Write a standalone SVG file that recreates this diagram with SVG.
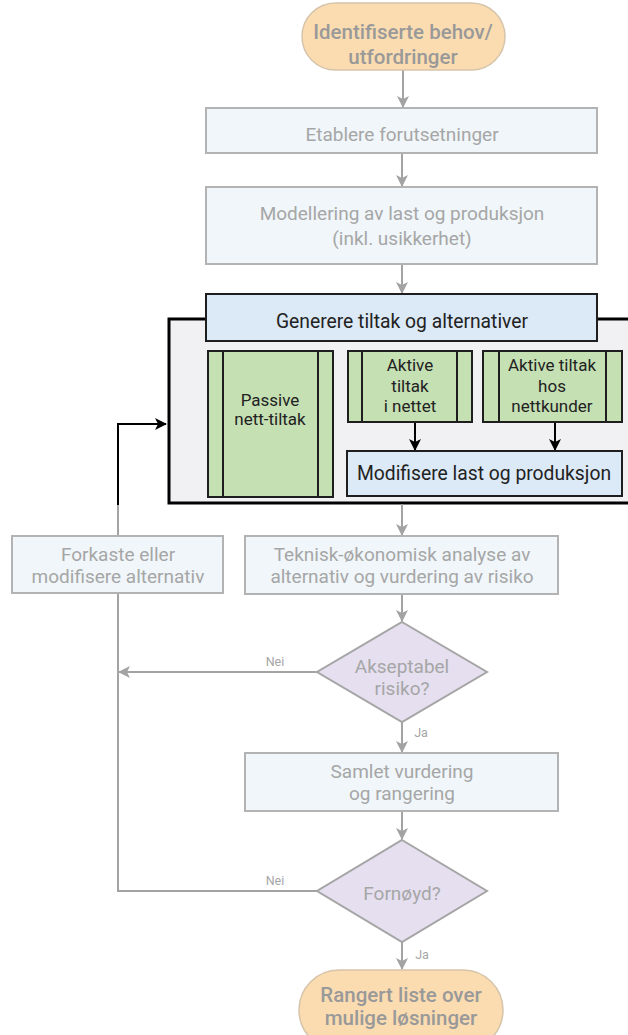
<svg xmlns="http://www.w3.org/2000/svg" width="628" height="1035" viewBox="0 0 628 1035">
  <style>
    text { font-family: Roboto, "Liberation Sans", sans-serif; text-anchor: middle; dominant-baseline: central; }
    .t-gray { fill: #a6a6a6; font-size: 19px; }
    .t-term { fill: #999; font-size: 20.5px; font-weight: 500; }
    .t-dark { fill: #222; font-size: 19.3px; }
    .t-green { fill: #222; font-size: 17px; }
    .t-lbl { fill: #a6a6a6; font-size: 12.5px; }
    .box { fill: #f0f6fa; stroke: #b3b3b3; stroke-width: 2; }
    .term { fill: #fbdcb1; stroke: #d6c4aa; stroke-width: 1.5; }
    .dia { fill: #e5dff0; stroke: #a5a5a5; stroke-width: 2; }
    .green { fill: #c5e0b3; stroke: #1e1e1e; stroke-width: 2; }
    .blue { fill: #dce9f6; stroke: #1e1e1e; stroke-width: 2; }
    .bar { stroke: #1e1e1e; stroke-width: 2; }
    .g-line { fill: none; stroke: #a3a3a3; stroke-width: 2; }
    .k-line { fill: none; stroke: #000; stroke-width: 2; }
  </style>
  <defs>
    <marker id="ag" viewBox="0 0 12 12" refX="11" refY="6" markerWidth="12" markerHeight="12" markerUnits="userSpaceOnUse" orient="auto">
      <path d="M0,0 L12,6 L0,12 L3,6 z" fill="#a3a3a3"/>
    </marker>
    <marker id="ak" viewBox="0 0 12 12" refX="11" refY="6" markerWidth="12" markerHeight="12" markerUnits="userSpaceOnUse" orient="auto">
      <path d="M0,0 L12,6 L0,12 L3,6 z" fill="#000"/>
    </marker>
  </defs>

  <rect width="628" height="1035" fill="#fff"/>

  <!-- generation container -->
  <g id="container">
    <rect x="169" y="319" width="470" height="184" fill="#f1f1f4" stroke="#000" stroke-width="3"/>
  </g>

  <g id="connectors">
    <line class="g-line" x1="403" y1="70" x2="403" y2="107" marker-end="url(#ag)"/>
    <line class="g-line" x1="402" y1="153" x2="402" y2="186" marker-end="url(#ag)"/>
    <line class="g-line" x1="402" y1="264" x2="402" y2="293" marker-end="url(#ag)"/>
    <line class="k-line" x1="415" y1="422" x2="415" y2="450" marker-end="url(#ak)"/>
    <line class="k-line" x1="555" y1="422" x2="555" y2="450" marker-end="url(#ak)"/>
    <line class="g-line" x1="402" y1="504" x2="402" y2="535" marker-end="url(#ag)"/>
    <line class="g-line" x1="402" y1="594" x2="402" y2="621" marker-end="url(#ag)"/>
    <line class="g-line" x1="402" y1="722" x2="402" y2="752" marker-end="url(#ag)"/>
    <line class="g-line" x1="402" y1="811" x2="402" y2="839" marker-end="url(#ag)"/>
    <line class="g-line" x1="402" y1="942" x2="402" y2="969" marker-end="url(#ag)"/>
    <!-- Nei branches -->
    <line class="g-line" x1="317" y1="672" x2="119" y2="672" marker-end="url(#ag)"/>
    <polyline class="g-line" points="317,891 118,891 118,593"/>
    <!-- back to generation -->
    <line class="g-line" x1="118" y1="536" x2="118" y2="504"/>
    <polyline class="k-line" points="118,505 118,424 166,424" marker-end="url(#ak)"/>
    <text class="t-lbl" x="275" y="661">Nei</text>
    <text class="t-lbl" x="275" y="880">Nei</text>
    <text class="t-lbl" x="421" y="732">Ja</text>
    <text class="t-lbl" x="422" y="954">Ja</text>
  </g>

  <g id="start">
    <rect class="term" x="302" y="3" width="203" height="67" rx="33.5"/>
    <text class="t-term" x="403" y="32">Identifiserte behov/</text>
    <text class="t-term" x="403" y="57">utfordringer</text>
  </g>

  <g id="etablere">
    <rect class="box" x="206" y="108" width="391" height="45"/>
    <text class="t-gray" x="402" y="134">Etablere forutsetninger</text>
  </g>

  <g id="modellering">
    <rect class="box" x="206" y="187" width="391" height="77"/>
    <text class="t-gray" x="402" y="213">Modellering av last og produksjon</text>
    <text class="t-gray" x="402" y="238">(inkl. usikkerhet)</text>
  </g>

  <g id="generere">
    <rect class="blue" x="206" y="294" width="391" height="47"/>
    <text class="t-dark" x="402" y="321">Generere tiltak og alternativer</text>
  </g>

  <g id="passive">
    <rect class="green" x="208" y="351" width="125" height="146"/>
    <line class="bar" x1="223" y1="351" x2="223" y2="497"/>
    <line class="bar" x1="318" y1="351" x2="318" y2="497"/>
    <text class="t-green" x="270" y="400">Passive</text>
    <text class="t-green" x="270" y="419">nett-tiltak</text>
  </g>

  <g id="aktive-nett">
    <rect class="green" x="348" y="351" width="124" height="71"/>
    <line class="bar" x1="362" y1="351" x2="362" y2="422"/>
    <line class="bar" x1="457" y1="351" x2="457" y2="422"/>
    <text class="t-green" x="410" y="365">Aktive</text>
    <text class="t-green" x="410" y="386">tiltak</text>
    <text class="t-green" x="410" y="406">i nettet</text>
  </g>

  <g id="aktive-kunder">
    <rect class="green" x="483" y="351" width="139" height="71"/>
    <line class="bar" x1="499" y1="351" x2="499" y2="422"/>
    <line class="bar" x1="606" y1="351" x2="606" y2="422"/>
    <text class="t-green" x="552" y="365">Aktive tiltak</text>
    <text class="t-green" x="552" y="386">hos</text>
    <text class="t-green" x="552" y="406">nettkunder</text>
  </g>

  <g id="modifisere">
    <rect class="blue" x="347" y="451" width="275" height="45"/>
    <text class="t-dark" x="484" y="473">Modifisere last og produksjon</text>
  </g>

  <g id="forkaste">
    <rect class="box" x="12" y="536" width="211" height="57"/>
    <text class="t-gray" x="118" y="554">Forkaste eller</text>
    <text class="t-gray" x="118" y="576">modifisere alternativ</text>
  </g>

  <g id="teknisk">
    <rect class="box" x="245" y="536" width="313" height="58"/>
    <text class="t-gray" x="402" y="554">Teknisk-økonomisk analyse av</text>
    <text class="t-gray" x="402" y="576">alternativ og vurdering av risiko</text>
  </g>

  <g id="akseptabel">
    <polygon class="dia" points="402,622 487,672 402,722 317,672"/>
    <text class="t-gray" x="402" y="666">Akseptabel</text>
    <text class="t-gray" x="402" y="688">risiko?</text>
  </g>

  <g id="samlet">
    <rect class="box" x="245" y="753" width="313" height="58"/>
    <text class="t-gray" x="402" y="771">Samlet vurdering</text>
    <text class="t-gray" x="402" y="793">og rangering</text>
  </g>

  <g id="fornoyd">
    <polygon class="dia" points="402,840 487,891 402,942 317,891"/>
    <text class="t-gray" x="402" y="893">Fornøyd?</text>
  </g>

  <g id="end">
    <rect class="term" x="299" y="970" width="204" height="80" rx="40"/>
    <text class="t-term" x="401" y="995">Rangert liste over</text>
    <text class="t-term" x="401" y="1018">mulige løsninger</text>
  </g>
</svg>
